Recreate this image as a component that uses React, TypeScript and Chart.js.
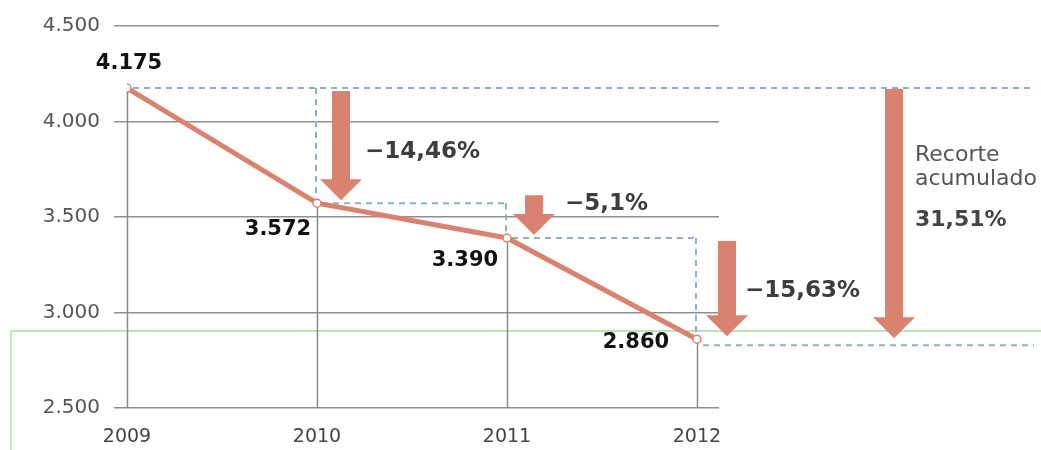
import React, { useEffect, useRef } from "react";
import { Chart, registerables } from "chart.js";

Chart.register(...registerables);

// ---- data ----
const years = [2009, 2010, 2011, 2012];
const values = [4175, 3572, 3390, 2860];
const valueLabels = ["4.175", "3.572", "3.390", "2.860"];
const yTickValues = [2500, 3000, 3500, 4000, 4500];
const changeLabels = ["\u221214,46%", "\u22125,1%", "\u221215,63%"];
const totalLabels = ["Recorte", "acumulado", "31,51%"];

// ---- layout / style constants ----
const SALMON = "#d9826f";
const DASH = "#8fb1c1";
const GRID = "#8f8f8f";
const FONT = "'DejaVu Sans', 'Liberation Sans', Arial, sans-serif";
const valueLabelOffsets = [
  [2, -25],
  [-39, 26],
  [-42, 23],
  [-61, 3],
];
const arrowOffsets = [24, 27, 30];
const changeLabelDx = [24, 31, 18];
const changeLabelDy = [6, -17, 2];
const TOTAL_ARROW_DX = 175; // from chart area right
const DASH_END_X = 1034;

const fmt = (v: number) => String(v).replace(/\B(?=(\d{3})+(?!\d))/g, ".");

function drawArrow(ctx: CanvasRenderingContext2D, cx: number, top: number, tip: number) {
  const shaftW = 18;
  const headW = 42;
  const headH = 21;
  ctx.beginPath();
  ctx.moveTo(cx - shaftW / 2, top);
  ctx.lineTo(cx + shaftW / 2, top);
  ctx.lineTo(cx + shaftW / 2, tip - headH);
  ctx.lineTo(cx + headW / 2, tip - headH);
  ctx.lineTo(cx, tip);
  ctx.lineTo(cx - headW / 2, tip - headH);
  ctx.lineTo(cx - shaftW / 2, tip - headH);
  ctx.closePath();
  ctx.fillStyle = SALMON;
  ctx.fill();
}

const decorPlugin = {
  id: "decor",
  beforeDatasetsDraw(chart: any) {
    const { ctx, chartArea, scales } = chart;
    const xs = scales.x;
    const ys = scales.y;
    ctx.save();
    // green frame artifact
    ctx.strokeStyle = "#a6dba6";
    ctx.lineWidth = 1.3;
    ctx.beginPath();
    ctx.moveTo(11, 450);
    ctx.lineTo(11, 331);
    ctx.lineTo(1041, 331);
    ctx.stroke();
    // vertical solid lines from points down
    ctx.strokeStyle = "#8a8a8a";
    ctx.lineWidth = 1.5;
    years.forEach((yr, i) => {
      const px = Math.round(xs.getPixelForValue(yr)) + 0.5;
      ctx.beginPath();
      ctx.moveTo(px, ys.getPixelForValue(values[i]));
      ctx.lineTo(px, chartArea.bottom);
      ctx.stroke();
    });
    // dashed connectors
    ctx.strokeStyle = DASH;
    ctx.lineWidth = 2;
    ctx.setLineDash([6, 5]);
    const P = years.map((yr, i) => ({ x: xs.getPixelForValue(yr), y: ys.getPixelForValue(values[i]) }));
    const seg = (x1: number, y1: number, x2: number, y2: number) => {
      ctx.beginPath();
      ctx.moveTo(x1, y1);
      ctx.lineTo(x2, y2);
      ctx.stroke();
    };
    seg(P[0].x + 6, P[0].y, DASH_END_X, P[0].y);
    for (let i = 1; i < P.length; i++) {
      seg(P[i].x - 1, P[i - 1].y, P[i].x - 1, P[i].y - 5);
      if (i < P.length - 1) seg(P[i].x + 5, P[i].y, P[i + 1].x - 2, P[i].y);
    }
    seg(P[3].x + 6, P[3].y + 6, DASH_END_X, P[3].y + 6);
    ctx.setLineDash([]);
    ctx.restore();
  },
  afterDatasetsDraw(chart: any) {
    const { ctx, chartArea, scales } = chart;
    const xs = scales.x;
    const ys = scales.y;
    const P = years.map((yr, i) => ({ x: xs.getPixelForValue(yr), y: ys.getPixelForValue(values[i]) }));
    ctx.save();
    // step arrows
    for (let i = 0; i < 3; i++) {
      const cx = P[i + 1].x + arrowOffsets[i];
      drawArrow(ctx, cx, P[i].y + (i === 1 ? -8 : 3), P[i + 1].y - 3);
      ctx.font = `bold 23px ${FONT}`;
      ctx.fillStyle = "#3d3d3d";
      ctx.textAlign = "left";
      ctx.textBaseline = "middle";
      ctx.fillText(changeLabels[i], P[i + 1].x + arrowOffsets[i] + changeLabelDx[i], (P[i].y + P[i + 1].y) / 2 + changeLabelDy[i]);
    }
    // total arrow
    const tx = chartArea.right + TOTAL_ARROW_DX;
    drawArrow(ctx, tx, P[0].y + 1, P[3].y - 1);
    ctx.textAlign = "left";
    ctx.textBaseline = "middle";
    ctx.fillStyle = "#555";
    ctx.font = `22px ${FONT}`;
    ctx.fillText(totalLabels[0], tx + 21, 155);
    ctx.fillText(totalLabels[1], tx + 21, 179);
    ctx.font = `bold 22px ${FONT}`;
    ctx.fillStyle = "#444";
    ctx.fillText(totalLabels[2], tx + 21, 220);
    // value labels
    ctx.font = `bold 21px ${FONT}`;
    ctx.fillStyle = "#111";
    ctx.textAlign = "center";
    P.forEach((p, i) => {
      ctx.fillText(valueLabels[i], p.x + valueLabelOffsets[i][0], p.y + valueLabelOffsets[i][1]);
    });
    ctx.restore();
  },
};

export default function App() {
  const ref = useRef<HTMLCanvasElement | null>(null);
  useEffect(() => {
    if (!ref.current) return;
    const chart = new Chart(ref.current, {
      type: "line",
      data: {
        datasets: [
          {
            data: years.map((x, i) => ({ x, y: values[i] })),
            borderColor: SALMON,
            borderWidth: 5,
            pointRadius: 4,
            pointBackgroundColor: "#ffffff",
            pointBorderColor: SALMON,
            pointBorderWidth: 1.5,
            tension: 0,
          },
        ],
      },
      options: {
        animation: false,
        responsive: false,
        maintainAspectRatio: false,
        layout: { padding: { top: 24, right: 322, left: 0, bottom: 0 } },
        plugins: { legend: { display: false }, tooltip: { enabled: false } },
        scales: {
          x: {
            type: "linear",
            min: years[0],
            max: years[years.length - 1] + 0.116,
            afterBuildTicks: (s: any) => {
              s.ticks = years.map((v) => ({ value: v }));
            },
            afterFit: (s: any) => {
              s.height = 42;
            },
            grid: { display: false, drawTicks: false },
            border: { display: false },
            ticks: {
              color: "#444",
              font: { family: FONT, size: 19 },
              padding: 18,
              callback: (v: any) => String(v),
            },
          },
          y: {
            min: yTickValues[0],
            max: yTickValues[yTickValues.length - 1],
            afterBuildTicks: (s: any) => {
              s.ticks = yTickValues.map((v) => ({ value: v }));
            },
            afterFit: (s: any) => {
              s.width = 127;
            },
            grid: { color: GRID, lineWidth: 1.5, tickLength: 13, drawTicks: true },
            border: { display: false },
            ticks: {
              color: "#555",
              font: { family: FONT, size: 20 },
              padding: 14,
              callback: (v: any) => fmt(v),
            },
          },
        },
      },
      plugins: [decorPlugin],
    });
    return () => chart.destroy();
  }, []);
  return (
    <div style={{ position: "fixed", left: 0, top: 0, width: 1041, height: 450, background: "#fff" }}>
      <canvas ref={ref} width={1041} height={450} style={{ width: 1041, height: 450 }} />
    </div>
  );
}
